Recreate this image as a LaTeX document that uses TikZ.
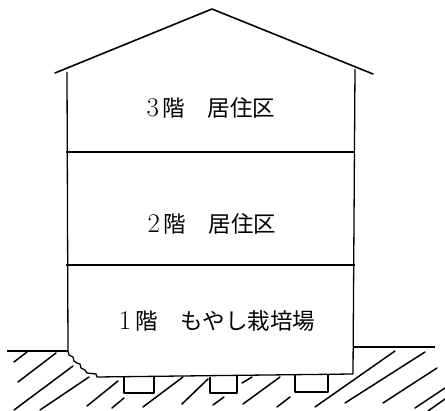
\documentclass[tikz,border=0pt]{standalone}
\usepackage{fontspec}
\newfontfamily\jp{Noto Sans CJK JP}
\usetikzlibrary{calc}

\newcommand\fl[1]{{\fontsize{27}{27}\selectfont #1}\,}

\tikzset{
    wall/.style={line width=1.3pt},
    roof/.style={line width=1.6pt, line cap=round},
    hatch/.style={line width=1.5pt, line cap=round},
    floor/.style={font=\fontsize{22.5}{24}\selectfont, inner sep=0pt}
}

\begin{document}
\begin{tikzpicture}[x=1pt, y=-1pt, line join=round]
    \useasboundingbox (0,0) rectangle (445,411);

    \coordinate (P) at (212,9);
    \coordinate (EL) at (55,73);
    \coordinate (ER) at (373,74);
    \coordinate (TL) at (67,72);
    \coordinate (TR) at (355,69);
    \coordinate (GL) at (68,351);
    \coordinate (BL) at (97,377);
    \coordinate (BR) at (353,374);

    % roof
    \draw[roof] (EL) -- (P) -- (ER);

    % walls, rough left footing and slab
    \draw[wall] (TL) -- (GL)
        -- (69,355) -- (73,357) -- (74,361) -- (77,363) -- (80,364)
        -- (81,368) -- (85,370) -- (87,373) -- (96,374) -- (BL) -- (BR);
    \draw[wall] (TR) -- (BR);

    % floors
    \draw[wall] (66,152) -- (355,152);
    \draw[wall] (66,265) -- (355,265);

    % ground
    \draw[wall] (7,351) -- (GL);
    \draw[wall] (353,347) -- (435,347);

    % footings
    \draw[wall] (124,377) -- (124,393) -- (154,393) -- (154,377);
    \draw[wall] (210,377) -- (210,393) -- (237,393) -- (237,376);
    \draw[wall] (295,374) -- (295,392) -- (328,392) -- (328,374);

    \foreach \xa/\ya/\xb/\yb in {14/362/27/352, 18/382/56/353, 14/410/73/366,
        40/410/89/377, 87/406/118/381, 112/408/124/398, 143/407/183/377,
        182/404/208/379, 213/405/224/397, 242/383/252/377, 243/404/280/377,
        277/407/290/397, 315/407/395/351, 345/403/425/352, 383/403/437/368,
        415/408/445/388, 428/411/445/399}
        \draw[hatch] (\xa,\ya) -- (\xb,\yb);

    \node[floor] (f3) at (211,108) {\fl3{\jp 階　居住区}};
    \node[floor] (f2) at (212,224) {\fl2{\jp 階　居住区}};
    \node[floor] (f1) at (217,321) {\fl1{\jp 階　もやし栽培場}};
\end{tikzpicture}
\end{document}
